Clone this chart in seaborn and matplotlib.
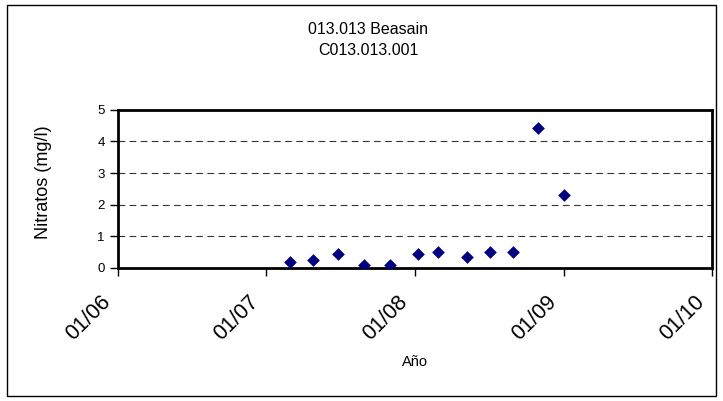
# Import libraries
import pandas as pd
import matplotlib
matplotlib.use("Agg")
import matplotlib.pyplot as plt
import matplotlib.dates as mdates
import matplotlib.transforms as mtransforms
from matplotlib.patches import Rectangle
import seaborn as sns

# Data
fechas = ["2007-02-28", "2007-04-25", "2007-06-27", "2007-08-30", "2007-10-31",
          "2008-01-10", "2008-02-26", "2008-05-08", "2008-07-03", "2008-08-30",
          "2008-10-30", "2009-01-02"]
nitratos = [0.20, 0.25, 0.44, 0.10, 0.10, 0.44, 0.49, 0.35, 0.49, 0.49, 4.42, 2.30]

df = pd.DataFrame({"Fecha": pd.to_datetime(fechas), "Nitratos": nitratos})

# Style
sns.set_style("white")
plt.rcParams["font.family"] = ["Liberation Sans", "DejaVu Sans"]
plt.rcParams["text.color"] = "black"
plt.rcParams["axes.labelcolor"] = "black"
plt.rcParams["xtick.color"] = "black"
plt.rcParams["ytick.color"] = "black"

fig = plt.figure(figsize=(7.23, 4.01), dpi=100)
ax = fig.add_axes([0.163, 0.332, 0.822, 0.394])

sns.scatterplot(data=df, x="Fecha", y="Nitratos", marker="D", color="#000080",
                s=42, edgecolor="#000080", linewidth=0, ax=ax, zorder=3)

# Axes limits and ticks
ax.set_xlim(pd.Timestamp("2006-01-01"), pd.Timestamp("2010-01-01"))
ax.set_ylim(0, 5)
ax.set_yticks([0, 1, 2, 3, 4, 5])
ax.xaxis.set_major_locator(mdates.YearLocator())
ax.xaxis.set_major_formatter(mdates.DateFormatter("%m/%y"))
ax.tick_params(axis="both", direction="out", length=6, width=1, color="black",
               bottom=True, left=True)
ax.tick_params(axis="x", pad=11)
offset = mtransforms.ScaledTranslation(-18 / 100, 0, fig.dpi_scale_trans)
for lbl in ax.get_xticklabels():
    lbl.set_rotation(45)
    lbl.set_ha("right")
    lbl.set_va("top")
    lbl.set_rotation_mode("anchor")
    lbl.set_fontsize(15.5)
    lbl.set_transform(lbl.get_transform() + offset)
plt.setp(ax.get_yticklabels(), fontsize=9.5)

# Dashed gridlines
for v in [1, 2, 3, 4]:
    ax.axhline(v, color="#333333", linestyle=(0, (6, 4)), linewidth=0.8, zorder=1)

for spine in ax.spines.values():
    spine.set_visible(True)
    spine.set_color("black")
    spine.set_linewidth(2)

ax.set_xlabel("Año", fontsize=10.5)
ax.xaxis.set_label_coords(0.5, -0.55)
ax.set_ylabel("Nitratos (mg/l)", fontsize=13)
ax.yaxis.set_label_coords(-0.11, 0.54)

fig.text(0.509, 0.900, "013.013 Beasain\nC013.013.001", ha="center", va="center",
         fontsize=11.5, linespacing=1.45)

# Outer chart border
fig.add_artist(Rectangle((0.009, 0.012), 0.982, 0.975, transform=fig.transFigure,
                         fill=False, edgecolor="black", linewidth=1))

fig.savefig("out.png", dpi=100)
